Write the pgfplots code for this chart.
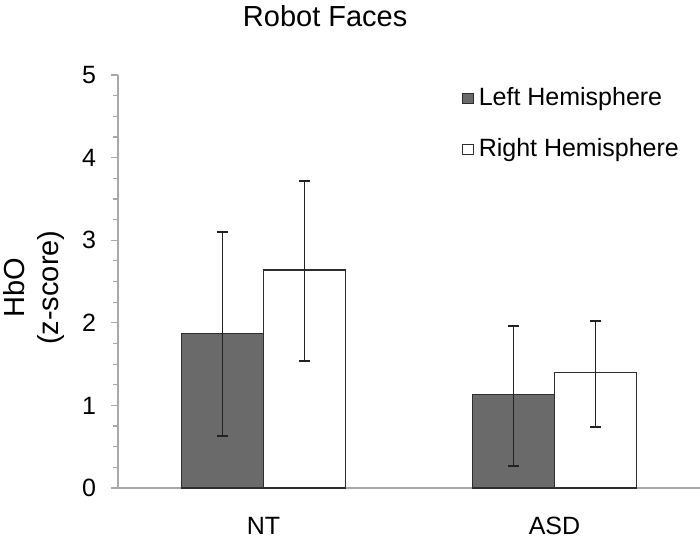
\documentclass[border=0pt]{standalone}
\usepackage{pgfplots}
\pgfplotsset{compat=1.18}
\usepackage{fontspec}
\setmainfont{Liberation Sans}
\definecolor{leftfill}{HTML}{6A6A6A}
\definecolor{bardraw}{HTML}{2E2E2E}
\definecolor{axisgray}{HTML}{A8A8A8}
\definecolor{errcol}{HTML}{222222}

\begin{document}
\begin{tikzpicture}
\begin{axis}[
    scale only axis,
    width=291pt, height=206.5pt,
    xmin=-0.5, xmax=1.5, ymin=0, ymax=5,
    axis x line*=bottom, axis y line*=left,
    axis line style={axisgray, line width=0.8pt},
    xtick={0,1}, xticklabels={NT,ASD},
    x tick style={draw=none},
    xticklabel style={yshift=-7.5pt},
    ytick={0,1,2,3,4,5}, minor y tick num=3,
    tick align=outside,
    y tick style={axisgray, line width=0.6pt},
    major tick length=3.5pt, minor tick length=2.5pt,
    yticklabel style={xshift=-4pt},
    tick label style={font=\fontsize{12.5}{15}\selectfont},
    /pgf/number format/assume math mode=true,
    ybar=0pt, bar width=41pt,
    title={Robot Faces},
    title style={at={(0.356,1)}, anchor=base, yshift=18.5pt, font=\fontsize{14.5}{16}\selectfont},
    ylabel={HbO\\(z-score)},
    ylabel style={at={(axis description cs:-0.144,0.485)}, anchor=center, align=center,
        font=\fontsize{14.5}{17}\selectfont},
    legend image code/.code={\draw[#1, line width=0.5pt] (0pt,-2.6pt) rectangle (5.2pt,2.6pt);},
    legend style={at={(0.591,0.98)}, anchor=north west, draw=none, fill=none,
        inner sep=0pt, row sep=11pt, font=\fontsize{12.5}{15}\selectfont,
        nodes={inner xsep=2.5pt}},
    legend cell align=left,
]
\addplot[fill=leftfill, draw=bardraw, line width=0.75pt,
    error bars/.cd, y dir=both, y explicit,
    error bar style={line width=0.9pt, errcol},
    error mark options={rotate=90, mark size=2.75pt, line width=0.9pt, errcol}]
    coordinates {(0,1.87) += (0,1.23) -= (0,1.24)
                 (1,1.13) += (0,0.83) -= (0,0.86)};
\addplot[fill=white, draw=bardraw, line width=0.75pt,
    error bars/.cd, y dir=both, y explicit,
    error bar style={line width=0.9pt, errcol},
    error mark options={rotate=90, mark size=2.75pt, line width=0.9pt, errcol}]
    coordinates {(0,2.64) += (0,1.08) -= (0,1.10)
                 (1,1.40) += (0,0.62) -= (0,0.66)};
\legend{Left Hemisphere, Right Hemisphere}
\end{axis}
\pgfresetboundingbox
\path (-59pt,-26.5pt) rectangle (291pt,244pt);
\end{tikzpicture}
\end{document}
